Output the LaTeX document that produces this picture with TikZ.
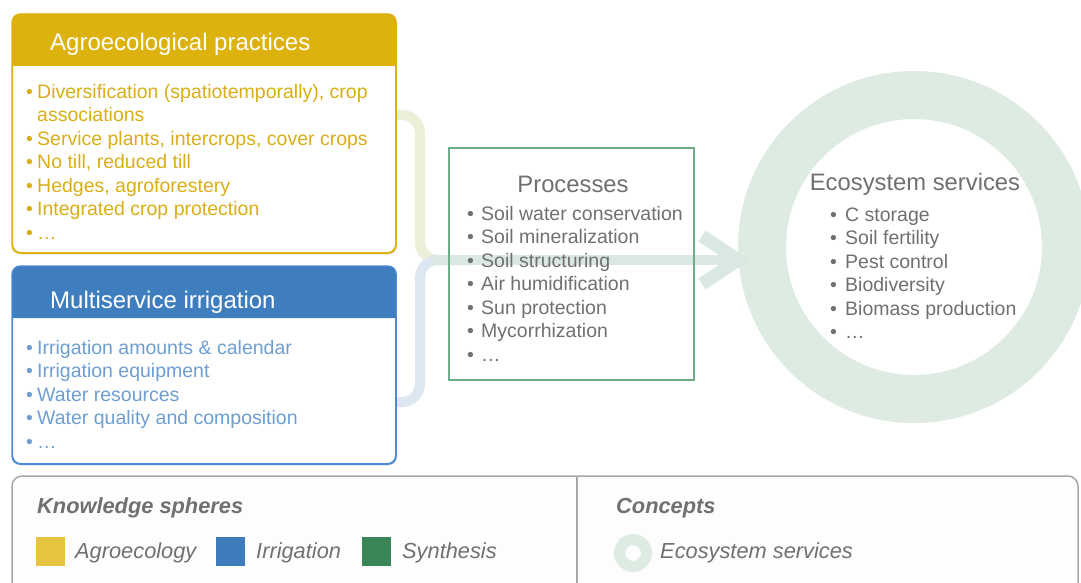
\documentclass[tikz,border=0pt]{standalone}
\usepackage{fontspec}
\setmainfont{Liberation Sans}
\usetikzlibrary{shadows}
\definecolor{agrohead}{HTML}{DDB20E}
\definecolor{agrotext}{HTML}{D9AE17}
\definecolor{irrhead}{HTML}{3F7EBE}
\definecolor{irrborder}{HTML}{4F8AD9}
\definecolor{irrtext}{HTML}{6E9ED2}
\definecolor{procgreen}{HTML}{6DAD87}
\definecolor{ringgreen}{HTML}{DDEBE2}
\definecolor{graytext}{HTML}{707070}
\definecolor{legborder}{HTML}{A8A8A8}
\definecolor{swyellow}{HTML}{E5C440}
\definecolor{swblue}{HTML}{3E7CBB}
\definecolor{swgreen}{HTML}{3A8659}
\definecolor{yconn}{HTML}{ECEED8}
\definecolor{bconn}{HTML}{DCE7F1}
\definecolor{shaftcol}{HTML}{DAE8E4}
\newcommand{\myfs}[2]{\fontsize{#1}{#2}\selectfont}
\newcommand{\blA}{\makebox[11pt][l]{•}}
\newcommand{\blB}{\makebox[14pt][l]{•}}
\newcommand{\blC}{\makebox[15pt][l]{•}}
\tikzset{
  panel/.style={draw=#1, line width=1.2pt, fill=white, rounded corners=8pt, anchor=north west,
    minimum width=383pt, minimum height=238pt, inner sep=0pt,
    drop shadow={opacity=0.25, shadow xshift=1pt, shadow yshift=-2pt}},
  headtext/.style={anchor=base west, text=white, font=\myfs{24}{28}, inner sep=0pt},
  listtext/.style={anchor=base west, align=left, inner sep=0pt, font=\myfs{19.5}{23.5}},
  conn/.style={line width=10pt, rounded corners=18pt},
  legtitle/.style={anchor=base west, inner sep=0pt, text=graytext, font=\myfs{21.8}{24}\bfseries\itshape},
  legitem/.style={anchor=base west, inner sep=0pt, text=graytext, font=\myfs{21.8}{24}\itshape},
  swatch/.style={fill=#1, minimum size=29pt, inner sep=0pt, anchor=north west}
}
\begin{document}
\begin{tikzpicture}[x=1pt, y=-1pt]
\useasboundingbox (0,0) rectangle (1081,583);
\fill[white] (0,0) rectangle (1081,583);

% ring (ecosystem services)
\node[circle, draw=ringgreen, line width=48pt, minimum size=304pt, inner sep=0pt] (es) at (914,247) {};

% connectors
\coordinate (merge) at (470,260);
\coordinate (agroout) at (396,115);
\coordinate (irrout) at (396,402);
\coordinate (tip) at (738,260);
\draw[conn, yconn] (agroout) -- (420,115) -- (420,260) -- (merge);
\draw[conn, bconn] (irrout) -- (420,402) -- (420,260) -- (merge);
\draw[shaftcol, line width=10pt] (432,260) -- (tip);
\draw[shaftcol, line width=13pt, line join=miter] (702,236) -- (tip) -- (702,284);

% agroecological practices panel
\node[panel=agrohead, minimum height=238pt] (agro) at (12,14) {};
\fill[agrohead] (agro.north west |- 0,66) {[rounded corners=8pt] -- (agro.north west) -- (agro.north east)} -- (agro.north east |- 0,66) -- cycle;
\draw[agrohead, line width=1.2pt, rounded corners=8pt] (agro.north west) rectangle (agro.south east);
\node[headtext] (agrotitle) at (50,51) {Agroecological practices};
\node[listtext, text=agrotext] (agrolist) at (26,239) {\blA Diversification (spatiotemporally), crop\\
\hspace*{11pt}associations\\
\blA Service plants, intercrops, cover crops\\
\blA No till, reduced till\\
\blA Hedges, agroforestery\\
\blA Integrated crop protection\\
\blA …};

% multiservice irrigation panel
\node[panel=irrborder, minimum height=197pt] (irr) at (12,266) {};
\fill[irrhead] (irr.north west |- 0,318) {[rounded corners=8pt] -- (irr.north west) -- (irr.north east)} -- (irr.north east |- 0,318) -- cycle;
\draw[irrborder, line width=1.2pt, rounded corners=8pt] (irr.north west) rectangle (irr.south east);
\node[headtext] (irrtitle) at (50,308) {Multiservice irrigation};
\node[listtext, text=irrtext] (irrlist) at (26,448) {\blA Irrigation amounts \& calendar\\
\blA Irrigation equipment\\
\blA Water resources\\
\blA Water quality and composition\\
\blA …};

% processes
\node[draw=procgreen, line width=1.5pt, minimum width=245pt, minimum height=232pt, anchor=north west, inner sep=0pt] (proc) at (448,147) {};
\node[anchor=base, inner sep=0pt, text=graytext, font=\myfs{23.8}{28}] (proctitle) at (573,192) {Processes};
\node[listtext, text=graytext] (proclist) at (467,361) {\blB Soil water conservation\\
\blB Soil mineralization\\
\blB Soil structuring\\
\blB Air humidification\\
\blB Sun protection\\
\blB Mycorrhization\\
\blB …};

% ecosystem services text
\node[anchor=base, inner sep=0pt, text=graytext, font=\myfs{23.8}{28}] (estitle) at (915,190) {Ecosystem services};
\node[listtext, text=graytext] (eslist) at (830,338.5) {\blC C storage\\
\blC Soil fertility\\
\blC Pest control\\
\blC Biodiversity\\
\blC Biomass production\\
\blC …};

% legend
\draw[legborder, line width=1.5pt, rounded corners=10pt, fill={rgb,255:red,253;green,253;blue,253}] (12,476) rectangle (1078,600);
\draw[legborder, line width=1.5pt] (577,476) -- (577,583);
\node[legtitle] (ks) at (37,513) {Knowledge spheres};
\node[swatch=swyellow] (swa) at (36,537) {};
\node[legitem] (la) at (75,558) {Agroecology};
\node[swatch=swblue] (swb) at (216,537) {};
\node[legitem] (lb) at (256,558) {Irrigation};
\node[swatch=swgreen] (swc) at (362,537) {};
\node[legitem] (lc) at (402,558) {Synthesis};
\node[legtitle] (co) at (616,513) {Concepts};
\node[circle, draw=ringgreen, line width=11pt, minimum size=27pt, inner sep=0pt] (ring) at (633,553) {};
\node[legitem] (lr) at (660,558) {Ecosystem services};
\end{tikzpicture}
\end{document}
